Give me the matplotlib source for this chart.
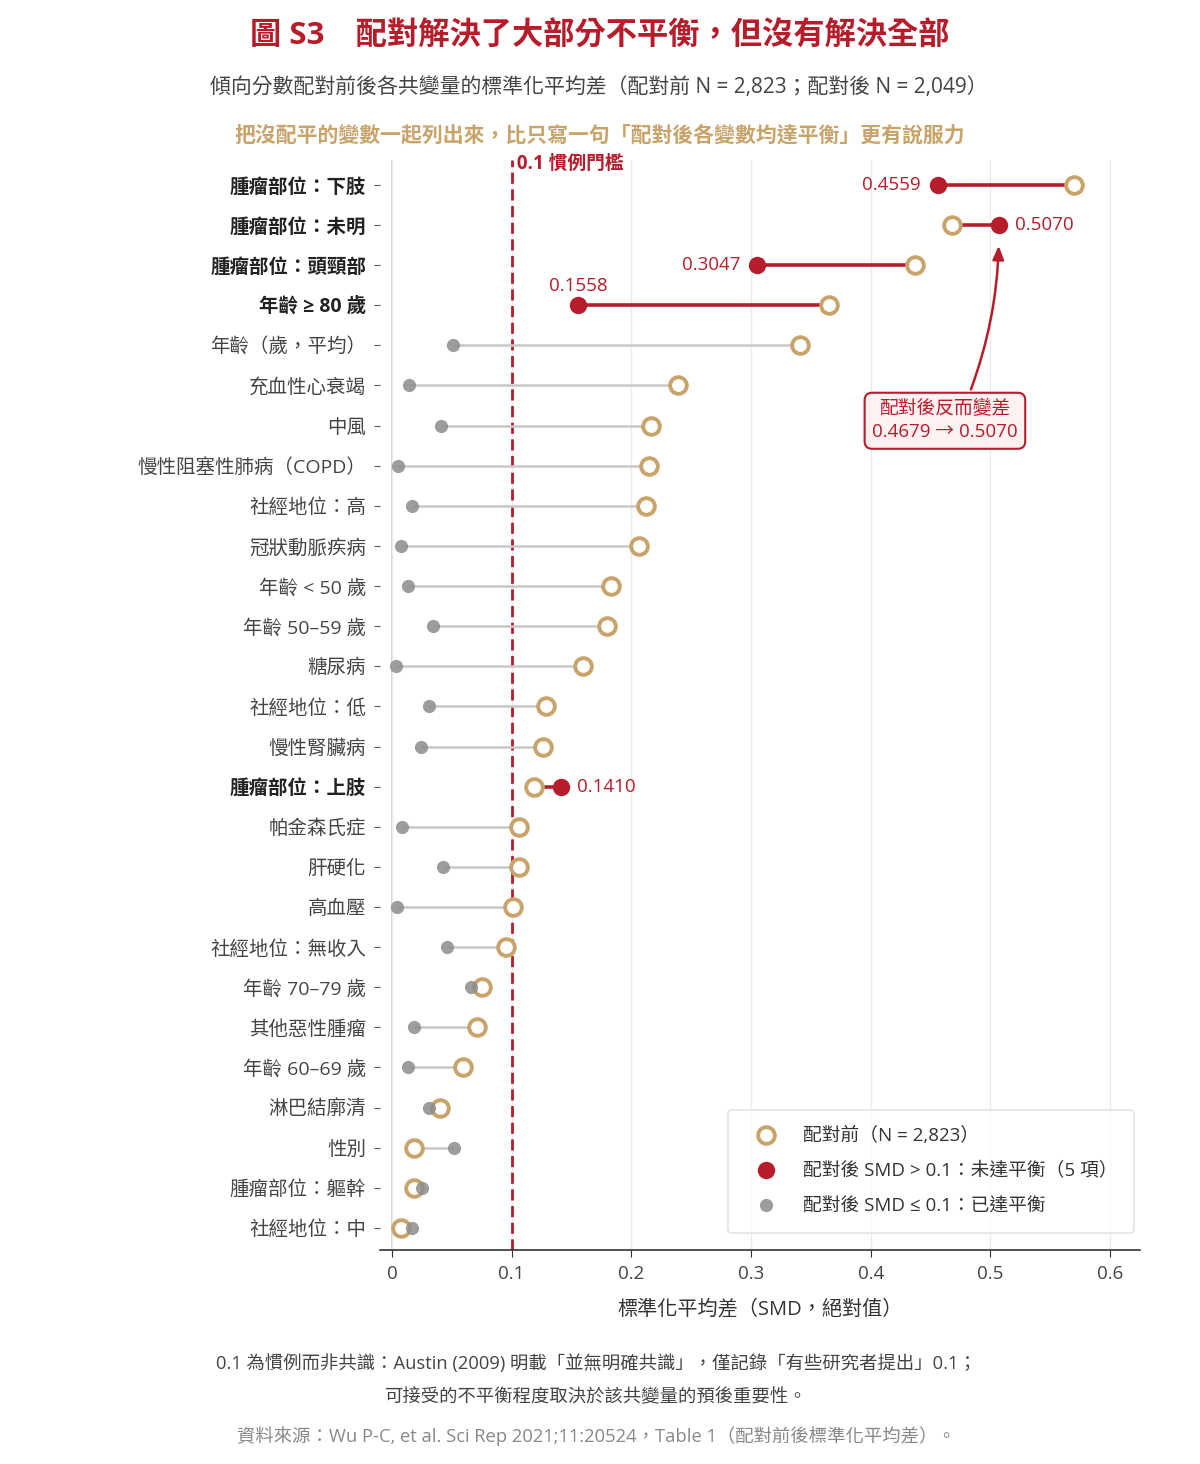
import matplotlib
matplotlib.use('Agg')
import matplotlib.pyplot as plt
from matplotlib.lines import Line2D

plt.rcParams['font.family'] = ['Open Sans', 'Noto Sans CJK TC', 'DejaVu Sans']

RED = '#B71C2B'
TAN = '#C9A46A'
GRAY = '#8c8c8c'

# 共變量（由上到下）
labels = [
    '腫瘤部位：下肢', '腫瘤部位：未明', '腫瘤部位：頭頸部', '年齡 ≥ 80 歲',
    '年齡（歲，平均）', '充血性心衰竭', '中風', '慢性阻塞性肺病（COPD）',
    '社經地位：高', '冠狀動脈疾病', '年齡 < 50 歲', '年齡 50–59 歲',
    '糖尿病', '社經地位：低', '慢性腎臟病', '腫瘤部位：上肢',
    '帕金森氏症', '肝硬化', '高血壓', '社經地位：無收入',
    '年齡 70–79 歲', '其他惡性腫瘤', '年齡 60–69 歲', '淋巴結廓清',
    '性別', '腫瘤部位：軀幹', '社經地位：中',
]
smd_before = [0.570, 0.4679, 0.437, 0.365, 0.341, 0.239, 0.216, 0.215,
              0.212, 0.206, 0.183, 0.180, 0.160, 0.129, 0.126, 0.119,
              0.106, 0.106, 0.101, 0.095, 0.075, 0.071, 0.059, 0.040,
              0.018, 0.018, 0.0075]
smd_after = [0.4559, 0.5070, 0.3047, 0.1558, 0.051, 0.014, 0.041, 0.005,
             0.017, 0.0075, 0.0135, 0.034, 0.003, 0.031, 0.024, 0.1410,
             0.0085, 0.043, 0.004, 0.046, 0.066, 0.018, 0.013, 0.031,
             0.052, 0.025, 0.017]
threshold = 0.1
xticks = [0, 0.1, 0.2, 0.3, 0.4, 0.5, 0.6]
xtick_labels = ['0', '0.1', '0.2', '0.3', '0.4', '0.5', '0.6']
# 紅點數值標籤的位置：左、右、上
label_side = {0: 'left', 1: 'right', 2: 'left', 3: 'top', 15: 'right'}

fig = plt.figure(figsize=(12, 14.64), dpi=100)
ax = fig.add_axes([0.3167, 0.1462, 0.6333, 0.7445])

ax.set_axisbelow(True)
ax.xaxis.grid(True, color='#ebebeb', lw=1)
ax.axvline(0, color='#d2d2d2', lw=1.5, zorder=0.5)
ax.axvline(threshold, color=RED, lw=2, ls=(0, (4, 2)), zorder=1.5)
ax.text(threshold, 0.996, ' 0.1 慣例門檻', transform=ax.get_xaxis_transform(),
        color=RED, fontsize=13.5, fontweight='bold', ha='left', va='center')

for i, (b, a) in enumerate(zip(smd_before, smd_after)):
    bad = a > threshold
    ax.plot([a, b], [i, i], color=RED if bad else '#c8c8c8',
            lw=2.6 if bad else 1.8, zorder=2, solid_capstyle='butt')

ys = list(range(len(labels)))
ax.plot(smd_before, ys, 'o', ms=12, mfc='white', mec=TAN, mew=2.8, ls='none', zorder=4)

bal_x = [a for a in smd_after if a <= threshold]
bal_y = [i for i, a in enumerate(smd_after) if a <= threshold]
bad_x = [a for a in smd_after if a > threshold]
bad_y = [i for i, a in enumerate(smd_after) if a > threshold]
ax.plot(bal_x, bal_y, 'o', ms=9.5, color=GRAY, alpha=0.85, mew=0, ls='none', zorder=5)
ax.plot(bad_x, bad_y, 'o', ms=12.5, color=RED, mew=0, ls='none', zorder=5)

for i, side in label_side.items():
    val = smd_after[i]
    if side == 'left':
        off, ha, va = (-12, 0), 'right', 'center'
    elif side == 'right':
        off, ha, va = (12, 0), 'left', 'center'
    else:
        off, ha, va = (0, 14), 'center', 'center'
    ax.annotate(f'{val:.4f}', (val, i), xytext=off, textcoords='offset points',
                ha=ha, va=va, color=RED, fontsize=13.5)

ax.annotate(f'配對後反而變差\n{smd_before[1]:.4f} → {smd_after[1]:.4f}',
            xy=(smd_after[1], 1), xytext=(0.462, 5.88),
            ha='center', va='center', color=RED, fontsize=13.5, linespacing=1.35,
            bbox=dict(boxstyle='round,pad=0.4', fc='#fdf1f1', ec=RED, lw=1.5),
            arrowprops=dict(arrowstyle='-|>,head_length=0.6,head_width=0.25',
                            color=RED, lw=1.8, relpos=(0.65, 1.0), shrinkB=15,
                            connectionstyle='arc3,rad=0.1'))

ax.set_xlim(-0.01, 0.625)
ax.set_ylim(len(labels) - 0.45, -0.62)
ax.set_xticks(xticks)
ax.set_xticklabels(xtick_labels)
ax.set_yticks(ys)
ax.set_yticklabels(labels)
for i, t in enumerate(ax.get_yticklabels()):
    if smd_after[i] > threshold:
        t.set_fontweight('bold')
        t.set_color('#222222')
    else:
        t.set_color('#444444')

for s in ['top', 'right', 'left']:
    ax.spines[s].set_visible(False)
ax.spines['bottom'].set_color('#333333')
ax.spines['bottom'].set_linewidth(1.2)
ax.tick_params(axis='y', length=4, color='#555555', pad=6, labelsize=14)
ax.tick_params(axis='x', length=5, color='#333333', pad=6, labelsize=13.5, labelcolor='#444444')
ax.set_xlabel('標準化平均差（SMD，絕對值）', fontsize=14.5, color='#333333', labelpad=12)

handles = [
    Line2D([], [], marker='o', ls='none', ms=12, mfc='white', mec=TAN, mew=2.8),
    Line2D([], [], marker='o', ls='none', ms=12.5, color=RED, mew=0),
    Line2D([], [], marker='o', ls='none', ms=9.5, color=GRAY, alpha=0.85, mew=0),
]
legend_labels = ['配對前（N = 2,823）', '配對後 SMD > 0.1：未達平衡（5 項）',
                 '配對後 SMD ≤ 0.1：已達平衡']
leg = ax.legend(handles, legend_labels, loc='lower right', bbox_to_anchor=(0.992, 0.016),
                borderaxespad=0, fontsize=13.5, frameon=True, labelspacing=0.92,
                borderpad=0.9, handletextpad=0.85, handlelength=2.2, fancybox=True)
leg.get_frame().set_edgecolor('#dddddd')
leg.get_frame().set_linewidth(1.2)
for t in leg.get_texts():
    t.set_color('#333333')

fig.text(0.5, 0.9747, '圖 S3　配對解決了大部分不平衡，但沒有解決全部',
         ha='center', va='center', color=RED, fontsize=22.5, fontweight='bold')
fig.text(0.499, 0.940, '傾向分數配對前後各共變量的標準化平均差（配對前 N = 2,823；配對後 N = 2,049）',
         ha='center', va='center', color='#444444', fontsize=15)
fig.text(0.5, 0.907, '把沒配平的變數一起列出來，比只寫一句「配對後各變數均達平衡」更有說服力',
         ha='center', va='center', color=TAN, fontsize=15, fontweight='bold')

fig.text(0.497, 0.0689, '0.1 為慣例而非共識：Austin (2009) 明載「並無明確共識」，僅記錄「有些研究者提出」0.1；',
         ha='center', va='center', color='#444444', fontsize=13.2)
fig.text(0.497, 0.0457, '可接受的不平衡程度取決於該共變量的預後重要性。',
         ha='center', va='center', color='#444444', fontsize=13.2)
fig.text(0.497, 0.0191, '資料來源：Wu P-C, et al. Sci Rep 2021;11:20524，Table 1（配對前後標準化平均差）。',
         ha='center', va='center', color='#888888', fontsize=13.2)

fig.savefig('out.png', dpi=100)
